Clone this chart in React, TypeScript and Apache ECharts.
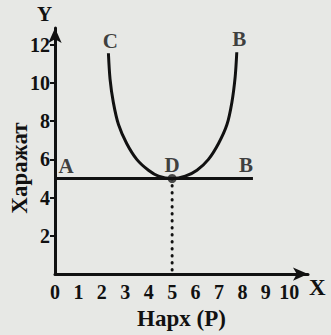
import React, { useEffect, useRef } from "react";
import * as echarts from "echarts";

const xTicks = [0, 1, 2, 3, 4, 5, 6, 7, 8, 9, 10];
const yTicks = [2, 4, 6, 8, 10, 12];
const xTitle = "Нарх (P)";
const yTitle = "Харажат";
const lineAB = [[0, 5], [8.45, 5]];
const curveCB = [
  [2.28, 11.55], [2.35, 10.2], [2.49, 8.98], [2.71, 7.82], [3.06, 6.83], [3.49, 6.0],
  [3.99, 5.43], [4.42, 5.12], [5, 5],
  [5.56, 5.12], [6.06, 5.43], [6.55, 6.0], [6.98, 6.83], [7.34, 7.82], [7.55, 8.98],
  [7.69, 10.3], [7.76, 11.6],
];
const pointD = [[5, 5]];
const dropLine = [[5, 5], [5, 0]];
const letterNames = ["A", "D", "B", "C", "B"];
const letterPos = [[0.47, 5.65], [5.0, 5.68], [8.15, 5.68], [2.36, 12.2], [7.87, 12.28]];

const FONT = "'Liberation Serif', 'DejaVu Serif', serif";
const INK = "#111111";

export default function App() {
  const ref = useRef<HTMLDivElement>(null);
  useEffect(() => {
    if (!ref.current) return;
    const chart = echarts.init(ref.current, null, { renderer: "svg" });
    chart.setOption({
      animation: false,
      backgroundColor: "#e7e8e5",
      grid: { left: 55, top: 28, right: 23, bottom: 47 },
      xAxis: {
        type: "value",
        min: 0,
        max: 10.8,
        name: xTitle,
        nameLocation: "middle",
        nameGap: 25,
        nameTextStyle: { fontFamily: FONT, fontWeight: "bold", fontSize: 23, color: INK },
        axisLine: { show: true, symbol: ["none", "arrow"], symbolSize: [10, 15], lineStyle: { color: INK, width: 3 } },
        axisTick: { show: false },
        splitLine: { show: false },
        axisLabel: {
          customValues: xTicks,
          margin: 8,
          fontFamily: FONT,
          fontWeight: "bold",
          fontSize: 20,
          color: INK,
        },
      },
      yAxis: {
        type: "value",
        min: 0,
        max: 12.87,
        axisLine: { show: true, symbol: ["none", "arrow"], symbolSize: [10, 15], lineStyle: { color: INK, width: 3 } },
        axisTick: { show: true, customValues: yTicks, length: 5, lineStyle: { color: INK, width: 2 } },
        splitLine: { show: false },
        axisLabel: {
          customValues: yTicks,
          margin: 5,
          fontFamily: FONT,
          fontWeight: "bold",
          fontSize: 20,
          color: INK,
        },
      },
      graphic: [
        { type: "text", left: 37, top: 3, style: { text: "Y", fontFamily: FONT, fontWeight: "bold", fontSize: 21, fill: INK } },
        { type: "text", left: 309, top: 276, style: { text: "X", fontFamily: FONT, fontWeight: "bold", fontSize: 23, fill: INK } },
        {
          type: "text",
          x: 19,
          y: 168,
          rotation: Math.PI / 2,
          style: {
            text: yTitle,
            align: "center",
            verticalAlign: "middle",
            fontFamily: FONT,
            fontWeight: "bold",
            fontSize: 23,
            fill: INK,
          },
        },
      ],
      series: [
        {
          type: "line",
          data: lineAB,
          symbol: "none",
          lineStyle: { color: INK, width: 3 },
        },
        {
          type: "line",
          data: curveCB,
          symbol: "none",
          smooth: 0.3,
          lineStyle: { color: INK, width: 3 },
        },
        {
          type: "line",
          data: dropLine,
          symbol: "none",
          lineStyle: { color: INK, width: 3, type: [0.5, 6.5], cap: "round" },
        },
        {
          type: "scatter",
          data: pointD,
          symbolSize: 9,
          itemStyle: { color: "#222" },
        },
        {
          type: "scatter",
          data: letterPos.map((p, i) => ({ value: p, name: letterNames[i] })),
          symbolSize: 0,
          label: {
            show: true,
            position: "inside",
            formatter: (p: any) => p.name,
            fontFamily: FONT,
            fontWeight: "bold",
            fontSize: 21,
            color: INK,
          },
        },
      ],
    });
    return () => chart.dispose();
  }, []);
  return <div ref={ref} style={{ position: "absolute", left: 0, top: 0, width: 331, height: 335 }} />;
}
